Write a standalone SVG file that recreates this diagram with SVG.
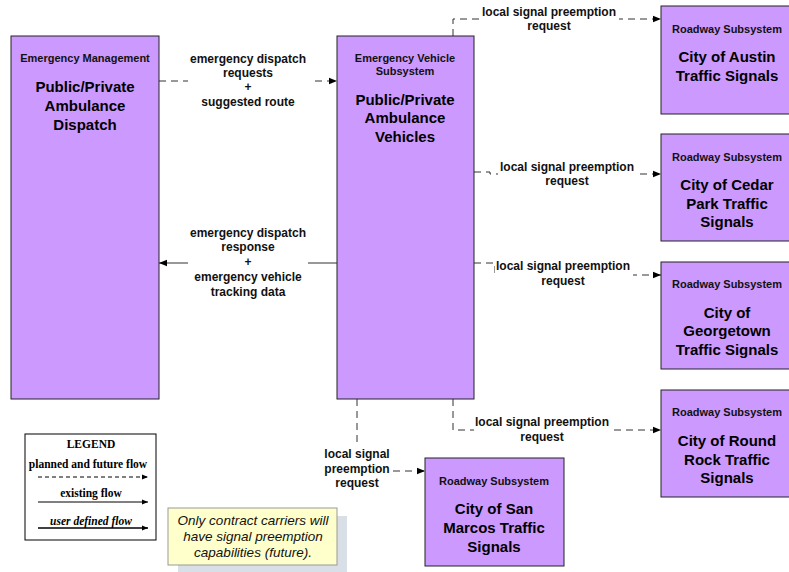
<svg xmlns="http://www.w3.org/2000/svg" width="789" height="572" viewBox="0 0 789 572">
<defs>
<marker id="ah" viewBox="0 0 10 10" refX="10" refY="5" markerWidth="8" markerHeight="8" markerUnits="userSpaceOnUse" orient="auto"><path d="M0,1 L10,5 L0,9 z" fill="#000"/></marker>
<marker id="ahs" viewBox="0 0 10 10" refX="10" refY="5" markerWidth="6" markerHeight="6" markerUnits="userSpaceOnUse" orient="auto"><path d="M0,1 L10,5 L0,9 z" fill="#000"/></marker>
<style>
.node{fill:#CC99FF;stroke:#222;stroke-width:1}
.sub{font-family:"Liberation Sans",Arial,sans-serif;font-size:11px;font-weight:bold;fill:#111;text-anchor:middle}
.ttl{font-family:"Liberation Sans",Arial,sans-serif;font-size:15px;font-weight:bold;fill:#000;text-anchor:middle}
.lbl{font-family:"Liberation Sans",Arial,sans-serif;font-size:12px;font-weight:bold;fill:#111;text-anchor:middle}
.dash{fill:none;stroke:#333;stroke-width:1;stroke-dasharray:7,5}
.solid{fill:none;stroke:#333;stroke-width:1}
.leg{font-family:"Liberation Serif","Times New Roman",serif;font-size:11.5px;font-weight:bold;fill:#000;text-anchor:middle}
.note{font-family:"Liberation Sans",Arial,sans-serif;font-size:13.5px;font-style:italic;fill:#111;text-anchor:middle}
.bg{fill:#fff}
</style>
</defs>
<rect width="789" height="572" fill="#fff"/>

<g id="connectors">
<g id="c1">
<path class="dash" d="M159,81 H337" marker-end="url(#ah)"/>
<rect class="bg" x="188" y="50" width="122" height="60"/>
<text class="lbl" x="248" y="63">emergency dispatch</text>
<text class="lbl" x="248" y="77">requests</text>
<text class="lbl" x="248" y="91">+</text>
<text class="lbl" x="248" y="106">suggested route</text>
</g>
<g id="c2">
<path class="solid" d="M337,263 H159" marker-end="url(#ah)"/>
<rect class="bg" x="188" y="224" width="120" height="74"/>
<text class="lbl" x="248" y="237">emergency dispatch</text>
<text class="lbl" x="248" y="251">response</text>
<text class="lbl" x="248" y="266">+</text>
<text class="lbl" x="248" y="281">emergency vehicle</text>
<text class="lbl" x="248" y="296">tracking data</text>
</g>
<g id="c3">
<path class="dash" d="M453,36 V19 H661" marker-end="url(#ah)"/>
<rect class="bg" x="481" y="4" width="138" height="30"/>
<text class="lbl" x="549" y="16">local signal preemption</text>
<text class="lbl" x="549" y="30">request</text>
</g>
<g id="c4">
<path class="dash" d="M474,172 H490 V174 H661" marker-end="url(#ah)"/>
<rect class="bg" x="498" y="158" width="138" height="30"/>
<text class="lbl" x="567" y="171">local signal preemption</text>
<text class="lbl" x="567" y="185">request</text>
</g>
<g id="c5">
<path class="dash" d="M474,263 H495 V275 H661" marker-end="url(#ah)"/>
<rect class="bg" x="495" y="257" width="138" height="30"/>
<text class="lbl" x="563" y="270">local signal preemption</text>
<text class="lbl" x="563" y="285">request</text>
</g>
<g id="c6">
<path class="dash" d="M453,399 V430 H661" marker-end="url(#ah)"/>
<rect class="bg" x="474" y="413" width="138" height="30"/>
<text class="lbl" x="542" y="426">local signal preemption</text>
<text class="lbl" x="542" y="441">request</text>
</g>
<g id="c7">
<path class="dash" d="M357,399 V471 H425" marker-end="url(#ah)"/>
<rect class="bg" x="324" y="446" width="66" height="44"/>
<text class="lbl" x="357" y="458">local signal</text>
<text class="lbl" x="357" y="473">preemption</text>
<text class="lbl" x="357" y="487">request</text>
</g>
</g>

<g id="emergency-management">
<rect class="node" x="11" y="36" width="148" height="363"/>
<text class="sub" x="85" y="62">Emergency Management</text>
<text class="ttl" x="85" y="92">Public/Private</text>
<text class="ttl" x="85" y="111">Ambulance</text>
<text class="ttl" x="85" y="130">Dispatch</text>
</g>

<g id="emergency-vehicle">
<rect class="node" x="337" y="36" width="137" height="363"/>
<text class="sub" x="405" y="62">Emergency Vehicle</text>
<text class="sub" x="405" y="75">Subsystem</text>
<text class="ttl" x="405" y="105">Public/Private</text>
<text class="ttl" x="405" y="123">Ambulance</text>
<text class="ttl" x="405" y="142">Vehicles</text>
</g>

<g id="austin">
<rect class="node" x="661" y="6" width="130" height="108"/>
<text class="sub" x="727" y="33">Roadway Subsystem</text>
<text class="ttl" x="727" y="62">City of Austin</text>
<text class="ttl" x="727" y="81">Traffic Signals</text>
</g>

<g id="cedar-park">
<rect class="node" x="661" y="134" width="130" height="107"/>
<text class="sub" x="727" y="161">Roadway Subsystem</text>
<text class="ttl" x="727" y="190">City of Cedar</text>
<text class="ttl" x="727" y="209">Park Traffic</text>
<text class="ttl" x="727" y="227">Signals</text>
</g>

<g id="georgetown">
<rect class="node" x="661" y="262" width="130" height="107"/>
<text class="sub" x="727" y="288">Roadway Subsystem</text>
<text class="ttl" x="727" y="318">City of</text>
<text class="ttl" x="727" y="336">Georgetown</text>
<text class="ttl" x="727" y="355">Traffic Signals</text>
</g>

<g id="round-rock">
<rect class="node" x="661" y="390" width="130" height="107"/>
<text class="sub" x="727" y="416">Roadway Subsystem</text>
<text class="ttl" x="727" y="446">City of Round</text>
<text class="ttl" x="727" y="465">Rock Traffic</text>
<text class="ttl" x="727" y="483">Signals</text>
</g>

<g id="san-marcos">
<rect class="node" x="425" y="458" width="139" height="108"/>
<text class="sub" x="494" y="485">Roadway Subsystem</text>
<text class="ttl" x="494" y="514">City of San</text>
<text class="ttl" x="494" y="533">Marcos Traffic</text>
<text class="ttl" x="494" y="552">Signals</text>
</g>

<g id="legend">
<rect x="25" y="434" width="131" height="106" fill="#fff" stroke="#000" stroke-width="1"/>
<text class="leg" x="91" y="448">LEGEND</text>
<text class="leg" x="88" y="468">planned and future flow</text>
<path d="M38,477 H148" fill="none" stroke="#000" stroke-width="1" stroke-dasharray="4,3" marker-end="url(#ahs)"/>
<text class="leg" x="91" y="497">existing flow</text>
<path d="M38,502 H148" fill="none" stroke="#000" stroke-width="1" marker-end="url(#ahs)"/>
<text class="leg" x="91" y="525" font-style="italic">user defined flow</text>
<path d="M38,528 H148" fill="none" stroke="#000" stroke-width="1.5" marker-end="url(#ahs)"/>
</g>

<g id="note">
<rect x="178" y="516" width="169" height="56" fill="#D9DFE6"/>
<rect x="168" y="508" width="169" height="57" fill="#FFFFCC" stroke="#999" stroke-width="1"/>
<text class="note" x="253" y="525">Only contract carriers will</text>
<text class="note" x="253" y="541">have signal preemption</text>
<text class="note" x="253" y="557">capabilities (future).</text>
</g>
</svg>
